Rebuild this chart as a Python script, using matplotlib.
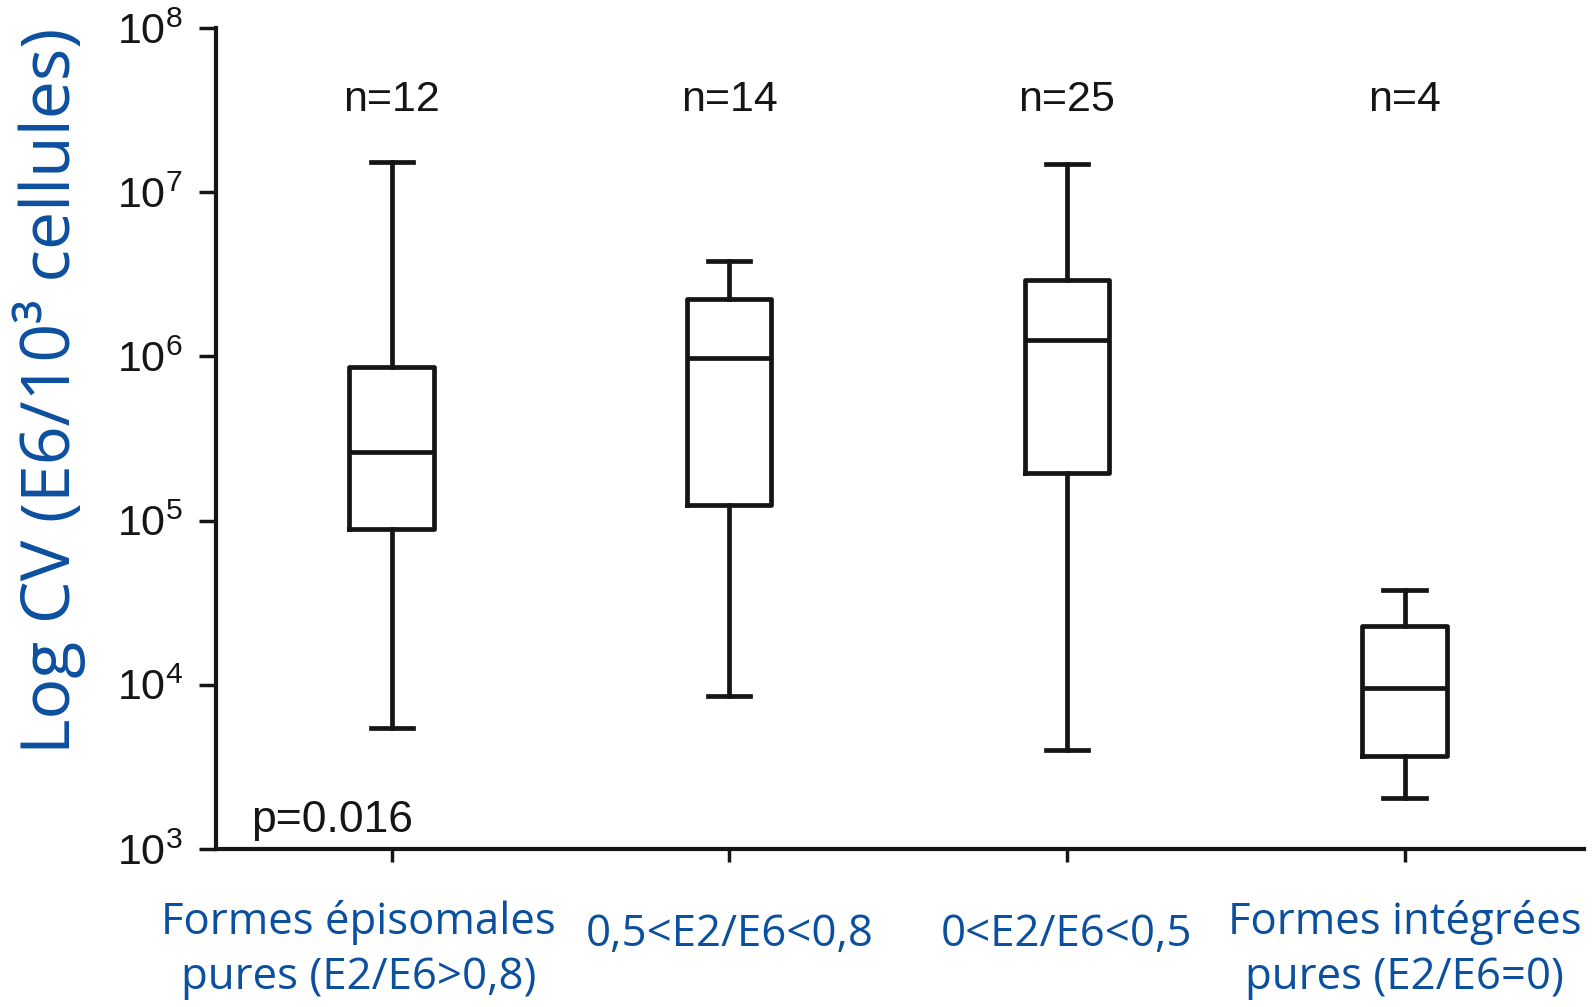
import numpy as np
import matplotlib
matplotlib.use("Agg")
import matplotlib.pyplot as plt
import matplotlib.transforms as mtransforms

plt.rcParams['mathtext.fontset'] = 'custom'
plt.rcParams['mathtext.rm'] = 'Liberation Sans'
plt.rcParams['mathtext.it'] = 'Liberation Sans:italic'
plt.rcParams['font.family'] = 'Liberation Sans'

# groups (E2/E6 ratio) and box statistics
categories = ["Formes épisomales\npures (E2/E6>0,8)", "0,5<E2/E6<0,8",
              "0<E2/E6<0,5", "Formes intégrées\npures (E2/E6=0)"]
n_counts = [12, 14, 25, 4]
whisk_low = [5.45e3, 8.6e3, 4.0e3, 2.04e3]
q1 = [8.9e4, 1.24e5, 1.95e5, 3.66e3]
medians = [2.63e5, 9.75e5, 1.26e6, 9.5e3]
q3 = [8.6e5, 2.23e6, 2.92e6, 2.27e4]
whisk_high = [1.52e7, 3.83e6, 1.48e7, 3.79e4]
p_value = "p=0.016"

blue = '#0b4f9f'
ink = '#151515'

fig = plt.figure(figsize=(15.92, 10.07), dpi=100)
ax = fig.add_axes([0.1357, 0.157, 0.859, 0.815])

stats = []
for i in range(len(categories)):
    stats.append({'whislo': whisk_low[i], 'q1': q1[i], 'med': medians[i],
                  'q3': q3[i], 'whishi': whisk_high[i], 'fliers': []})

pos = np.arange(1, len(categories) + 1)
lw = 3.4
ax.bxp(stats, positions=pos, widths=0.25, showfliers=False,
       capwidths=0.125,
       boxprops=dict(color=ink, linewidth=lw),
       whiskerprops=dict(color=ink, linewidth=lw),
       capprops=dict(color=ink, linewidth=lw),
       medianprops=dict(color=ink, linewidth=lw))

ax.set_yscale('log')
ax.set_ylim(1e3, 1e8)
ax.set_xlim(0.48, 4.53)
ax.set_yticks([1e3, 1e4, 1e5, 1e6, 1e7, 1e8])
ax.minorticks_off()

for s in ['top', 'right']:
    ax.spines[s].set_visible(False)
for s in ['left', 'bottom']:
    ax.spines[s].set_linewidth(3)
    ax.spines[s].set_color(ink)

ax.tick_params(axis='y', length=12, width=2.5, color=ink, labelsize=31,
               labelcolor=ink, pad=12)
ax.tick_params(axis='x', length=9, width=2.5, color=ink, labelsize=31.5,
               labelcolor=blue, pad=28)

ax.set_xticks(pos)
ax.set_xticklabels(categories, family='Open Sans', linespacing=1.3)
labels = ax.get_xticklabels()
for lbl in labels:
    if '\n' not in lbl.get_text():
        lbl.set_transform(lbl.get_transform() +
                          mtransforms.ScaledTranslation(0, -12 / 100, fig.dpi_scale_trans))
# first label sits a little left of its box in the original
labels[0].set_transform(labels[0].get_transform() +
                        mtransforms.ScaledTranslation(-33 / 100, 0, fig.dpi_scale_trans))

for x, n in zip(pos, n_counts):
    ax.text(x, 10 ** 7.56, f"n={n}", ha='center', va='center', fontsize=31,
            color=ink)

ax.text(0.585, 10 ** 3.17, p_value, ha='left', va='center', fontsize=32, color=ink)

fig.text(49 / 1592, 1 - 391 / 1007, "Log CV (E6/10³ cellules)", rotation=90,
         ha='center', va='center', fontsize=49, color=blue, family='Open Sans')

fig.savefig('out.png', dpi=100)
